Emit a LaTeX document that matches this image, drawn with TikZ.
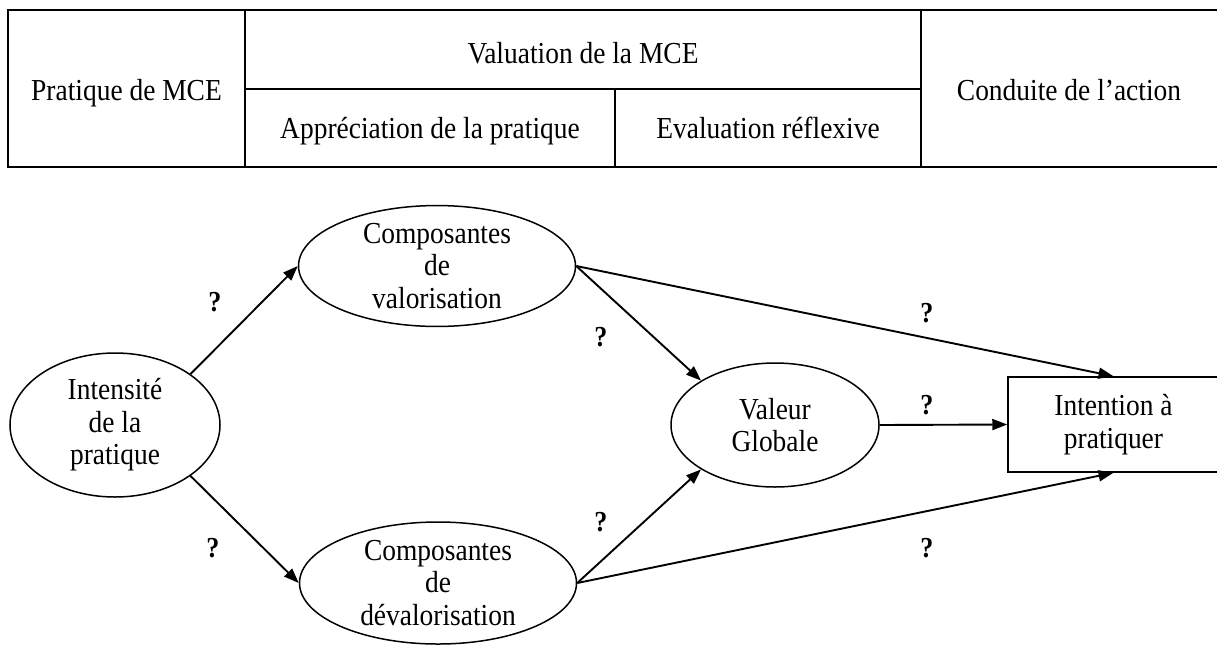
\documentclass[tikz,border=0pt]{standalone}
\usepackage{fontspec}
\setmainfont{Liberation Serif}[FakeStretch=0.9]
\usetikzlibrary{arrows.meta,shapes.geometric}
\begin{document}
\begin{tikzpicture}[x=1pt,y=-1pt,
  txt/.style={font=\fontsize{30.5}{32.5}\selectfont, align=center, inner sep=0pt},
  tbltxt/.style={font=\fontsize{30.5}{32.5}\selectfont, anchor=base, inner sep=0pt},
  ell/.style={ellipse, draw, line width=1.5pt, inner sep=0pt, txt},
  boxn/.style={rectangle, draw, line width=1.5pt, inner sep=0pt, txt},
  tbl/.style={line width=1.7pt},
  arr/.style={line width=1.9pt, -{Triangle[length=15pt,width=11pt]}},
  qm/.style={font=\bfseries\fontsize{29}{29}\selectfont, inner sep=0pt}]
\useasboundingbox (0,0) rectangle (1217,646);
% table
\draw[tbl] (8,10) -- (1222,10);
\draw[tbl] (8,167) -- (1222,167);
\draw[tbl] (8,9.15) -- (8,167.85);
\draw[tbl] (245,10) -- (245,167);
\draw[tbl] (921,10) -- (921,167);
\draw[tbl] (245,89) -- (921,89);
\draw[tbl] (615,89) -- (615,167);
\node[tbltxt] (t1) at (126.5,100) {Pratique de MCE};
\node[tbltxt] (t2) at (583,63) {Valuation de la MCE};
\node[tbltxt] (t3) at (430,138) {Appréciation de la pratique};
\node[tbltxt] (t4) at (768,138) {Evaluation réflexive};
\node[tbltxt] (t5) at (1069,100) {Conduite de l’action};
% nodes
\node[ell, minimum width=210pt, minimum height=144pt] (int) at (115,425) {Intensité\\de la\\pratique};
\node[ell, minimum width=277pt, minimum height=120pt] (cv) at (437,266) {Composantes\\de\\valorisation};
\node[ell, minimum width=277pt, minimum height=122pt] (cd) at (438,583) {Composantes\\de\\dévalorisation};
\node[ell, minimum width=208pt, minimum height=124pt] (val) at (775,425) {Valeur\\Globale};
\node[boxn, minimum width=211pt, minimum height=95pt] (intent) at (1113.5,424.5) {Intention à\\pratiquer};
% connectors
\draw[arr] (int.34) -- (cv.west);
\draw[arr] (int.-34) -- (cd.west);
\draw[arr] (cv.east) -- (val.149);
\draw[arr] (cd.east) -- (val.211);
\draw[arr] (cv.east) -- (intent.north);
\draw[arr] (cd.east) -- (intent.south);
\draw[arr] (val.east) -- (intent.west);
% labels
\node[qm] (q1) at (215,302) {?};
\node[qm] (q2) at (213,548) {?};
\node[qm] (q3) at (601,337) {?};
\node[qm] (q4) at (601,522) {?};
\node[qm] (q5) at (927,313) {?};
\node[qm] (q6) at (927,405) {?};
\node[qm] (q7) at (927,548) {?};
\end{tikzpicture}
\end{document}
